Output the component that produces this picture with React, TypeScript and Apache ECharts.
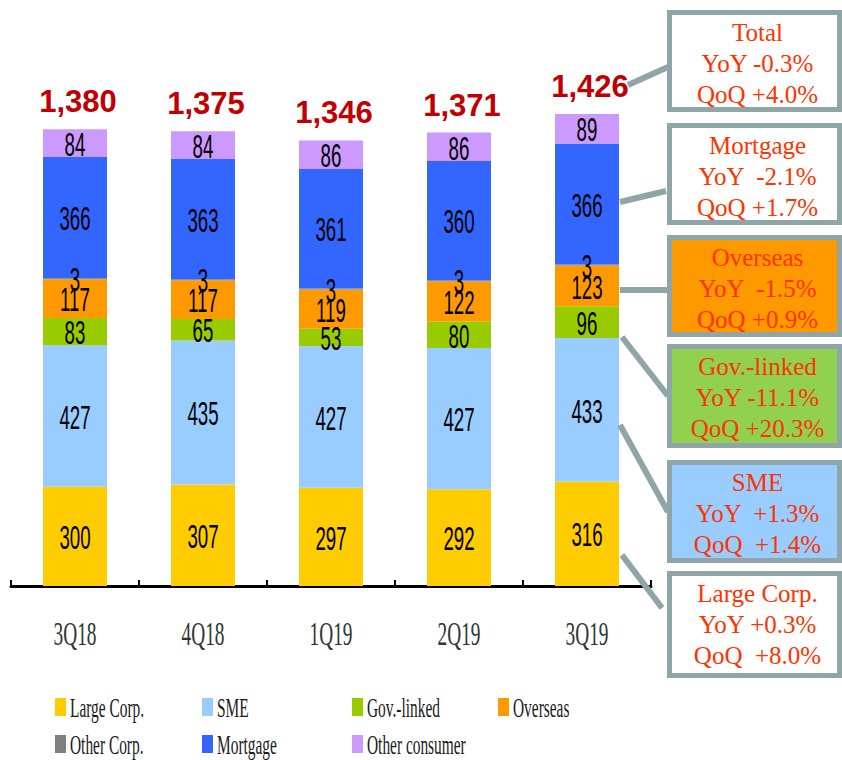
import React, { useEffect, useRef } from "react";
import * as echarts from "echarts";

const categories = ["3Q18", "4Q18", "1Q19", "2Q19", "3Q19"];
const largeCorp = [300, 307, 297, 292, 316];
const sme = [427, 435, 427, 427, 433];
const govLinked = [83, 65, 53, 80, 96];
const overseas = [117, 117, 119, 122, 123];
const otherCorp = [3, 3, 3, 3, 3];
const mortgage = [366, 363, 361, 360, 366];
const otherConsumer = [84, 84, 86, 86, 89];
const totals = [1380, 1375, 1346, 1371, 1426];

const seriesNames = ["Large Corp.", "SME", "Gov.-linked", "Overseas", "Other Corp.", "Mortgage", "Other consumer"];
const seriesColors = ["#FFCC00", "#99CCFF", "#99CC00", "#FF9900", "#808080", "#3366FF", "#CC99FF"];
const seriesData = [largeCorp, sme, govLinked, overseas, otherCorp, mortgage, otherConsumer];

const boxTitles = ["Total", "Mortgage", "Overseas", "Gov.-linked", "SME", "Large Corp."];
const boxYoY = ["YoY -0.3%", "YoY \u00a0-2.1%", "YoY \u00a0-1.5%", "YoY -11.1%", "YoY \u00a0+1.3%", "YoY +0.3%"];
const boxQoQ = ["QoQ +4.0%", "QoQ +1.7%", "QoQ +0.9%", "QoQ +20.3%", "QoQ \u00a0+1.4%", "QoQ \u00a0+8.0%"];
const boxFills = ["#FFFFFF", "#FFFFFF", "#FF9900", "#92D050", "#99CCFF", "#FFFFFF"];

const SANS = "'Liberation Sans', Arial, sans-serif";
const SERIF = "'Liberation Serif', 'Times New Roman', serif";

export default function App() {
  const ref = useRef<HTMLDivElement>(null);

  useEffect(() => {
    if (!ref.current) return;
    const chart = echarts.init(ref.current, null, { renderer: "svg" });

    const boxTops = [12.5, 125.5, 237.5, 346.5, 462.5, 573.5];
    const boxHeights = [97, 97, 97, 99, 98, 102];
    const boxX = 669.5;
    const boxW = 170;
    const borderColor = "#8FA5A8";

    const graphics: any[] = [];
    const connectors = [
      [628, 85, 668, 67],
      [620, 202, 666, 191],
      [620, 290, 668, 290],
      [622, 337, 668, 396],
      [620, 425, 668, 512],
      [622, 555, 662, 608],
    ];
    connectors.forEach((c) => {
      graphics.push({
        type: "line",
        shape: { x1: c[0], y1: c[1], x2: c[2], y2: c[3] },
        style: { stroke: borderColor, lineWidth: 6 },
        z: 10,
      });
    });
    boxTitles.forEach((t, i) => {
      const top = boxTops[i];
      graphics.push({
        type: "rect",
        shape: { x: boxX, y: top, width: boxW, height: boxHeights[i] },
        style: { fill: boxFills[i], stroke: borderColor, lineWidth: 5 },
        z: 11,
      });
      const cx = boxX + boxW / 2 + 3;
      [t, boxYoY[i], boxQoQ[i]].forEach((line, j) => {
        graphics.push({
          type: "text",
          x: cx,
          y: top - 2.5 + 22 + j * 31,
          style: {
            text: line,
            fill: "#FF3300",
            font: `25px ${SERIF}`,
            align: "center",
            verticalAlign: "middle",
          },
          z: 12,
        });
      });
    });

    // legend (condensed text like the reference)
    const colX = [55, 202, 352, 498];
    const rowY = [707, 744];
    seriesNames.forEach((name, i) => {
      const col = i % 4;
      const row = Math.floor(i / 4);
      graphics.push({
        type: "group",
        x: colX[col],
        y: rowY[row],
        children: [
          {
            type: "rect",
            shape: { x: 0, y: -9, width: 11, height: 18 },
            style: { fill: seriesColors[i] },
          },
          {
            type: "text",
            x: 15,
            y: 1,
            scaleX: 0.55,
            style: {
              text: name,
              fill: "#1a1a1a",
              font: `28px ${SERIF}`,
              align: "left",
              verticalAlign: "middle",
            },
          },
        ],
      });
    });

    const series: any[] = seriesNames.map((name, i) => ({
      name,
      type: "bar",
      stack: "total",
      barWidth: 64,
      data: seriesData[i],
      itemStyle: { color: seriesColors[i] },
    }));
    series.push({
      name: "TotalLabel",
      type: "bar",
      stack: "total",
      barWidth: 64,
      data: totals.map(() => 0),
      itemStyle: { color: "transparent" },
      label: {
        show: true,
        position: "top",
        distance: 12,
        offset: [3, 0],
        formatter: (p: any) => totals[p.dataIndex].toLocaleString("en-US"),
        color: "#C00000",
        fontWeight: "bold",
        fontFamily: SANS,
        fontSize: 31,
      },
    });

    // segment value labels (condensed), positioned through the axes
    const segLabels: number[][] = [];
    categories.forEach((_, c) => {
      let base = 0;
      seriesData.forEach((arr) => {
        const v = arr[c];
        segLabels.push([c, base + v / 2, v]);
        base += v;
      });
    });
    series.push({
      name: "segLabels",
      type: "custom",
      clip: false,
      silent: true,
      z: 5,
      data: segLabels,
      renderItem: (_params: any, api: any) => {
        const pt = api.coord([api.value(0), api.value(1)]);
        return {
          type: "text",
          x: pt[0],
          y: pt[1] + 1,
          scaleX: 0.55,
          style: {
            text: String(api.value(2)),
            fill: "#000",
            font: `34px ${SANS}`,
            align: "center",
            verticalAlign: "middle",
          },
        };
      },
    });
    // category labels (condensed serif), positioned through the axes
    series.push({
      name: "catLabels",
      type: "custom",
      clip: false,
      silent: true,
      data: categories.map((_, i) => [i, 0]),
      renderItem: (params: any, api: any) => {
        const pt = api.coord([api.value(0), 0]);
        return {
          type: "text",
          x: pt[0],
          y: pt[1] + 47,
          scaleX: 0.57,
          style: {
            text: categories[params.dataIndex],
            fill: "#333",
            font: `34px ${SERIF}`,
            align: "center",
            verticalAlign: "middle",
          },
        };
      },
    });

    chart.setOption({
      animation: false,
      backgroundColor: "#FFFFFF",
      grid: { left: 11, right: 191, top: 89.5, bottom: 174, containLabel: false },
      xAxis: {
        type: "category",
        data: categories,
        axisLine: { lineStyle: { color: "#000", width: 3 } },
        axisTick: { show: true, inside: true, length: 6, lineStyle: { color: "#000", width: 2 } },
        axisLabel: { show: false },
      },
      yAxis: {
        type: "value",
        min: 0,
        max: 1500,
        show: false,
        splitLine: { show: false },
      },
      series,
      graphic: graphics,
    });

    return () => chart.dispose();
  }, []);

  return (
    <div
      ref={ref}
      style={{ position: "fixed", left: 0, top: 0, width: 842, height: 760, background: "#fff" }}
    />
  );
}
